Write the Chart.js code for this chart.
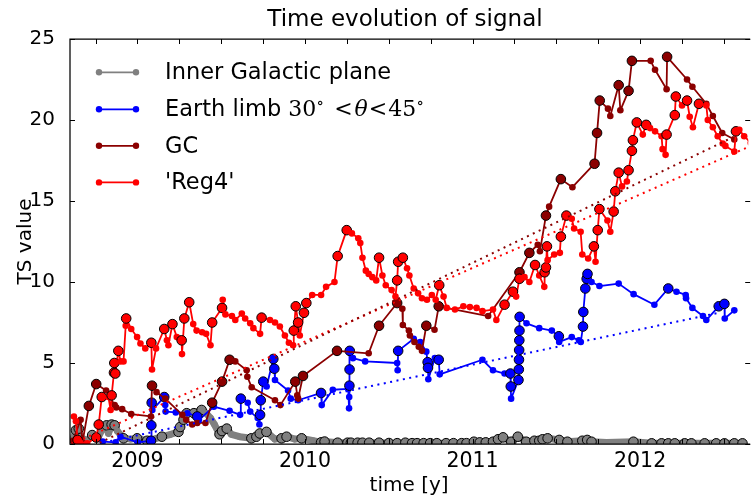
<!DOCTYPE html>
<html lang="en">
<head>
<meta charset="UTF-8">
<title>Time evolution of signal</title>
<script src="https://cdn.jsdelivr.net/npm/chart.js"></script>
<style>
  body { margin: 0; background: #fff; }
  #wrap { width: 754px; height: 497px; }
</style>
</head>
<body>
<div id="wrap"><canvas id="grafico" width="754" height="497"></canvas></div>
<script>
// time in years, TS value, and 1 where the point is drawn with a black ring

// Inner Galactic plane
var igpTime = [2008.615, 2008.633, 2008.650, 2008.660, 2008.700, 2008.730, 2008.760, 2008.790, 2008.816, 2008.827,
  2008.846, 2008.864, 2008.880, 2008.900, 2008.917, 2008.960, 2008.998, 2009.058, 2009.100, 2009.146,
  2009.200, 2009.245, 2009.255, 2009.275, 2009.294, 2009.337, 2009.383, 2009.410, 2009.436, 2009.460,
  2009.490, 2009.505, 2009.533, 2009.560, 2009.610, 2009.680, 2009.710, 2009.730, 2009.770, 2009.820,
  2009.860, 2009.890, 2009.940, 2009.980, 2010.050, 2010.096, 2010.117, 2010.195, 2010.254, 2010.274,
  2010.314, 2010.343, 2010.383, 2010.442, 2010.501, 2010.550, 2010.599, 2010.639, 2010.669, 2010.708,
  2010.747, 2010.787, 2010.842, 2010.886, 2010.935, 2010.964, 2011.008, 2011.043, 2011.079, 2011.122,
  2011.152, 2011.182, 2011.231, 2011.270, 2011.320, 2011.369, 2011.398, 2011.418, 2011.448, 2011.517,
  2011.566, 2011.655, 2011.684, 2011.710, 2011.800, 2011.960, 2012.069, 2012.128, 2012.168, 2012.207,
  2012.266, 2012.306, 2012.385, 2012.454, 2012.503, 2012.562, 2012.611];
var igpTS = [0.3, 0.85, 0.95, 0.4, 0.2, 0.55, 0.3, 0.9, 1.15, 0.65,
  1.2, 1.15, 0.8, 0.55, 0.35, 0.3, 0.35, 0.2, 0.3, 0.45,
  0.6, 0.75, 1.05, 1.5, 1.9, 1.9, 2.1, 1.9, 1.6, 1.2,
  0.6, 0.8, 0.95, 0.6, 0.45, 0.35, 0.45, 0.65, 0.75, 0.3,
  0.35, 0.45, 0.3, 0.35, 0.2, 0.1, 0.15, 0.08, 0.08, 0.08,
  0.08, 0.08, 0.08, 0.08, 0.06, 0.05, 0.08, 0.05, 0.05, 0.05,
  0.05, 0.05, 0.05, 0.05, 0.05, 0.05, 0.14, 0.1, 0.1, 0.14,
  0.29, 0.41, 0.14, 0.45, 0.14, 0.2, 0.2, 0.29, 0.35, 0.25,
  0.14, 0.2, 0.25, 0.14, 0.1, 0.14, 0.04, 0.04, 0.04, 0.04,
  0.04, 0.04, 0.04, 0.04, 0.04, 0.04, 0.04];
var igpRing = [0, 1, 1, 0, 0, 1, 0, 0, 1, 0,
  1, 1, 0, 0, 1, 0, 1, 1, 0, 1,
  0, 1, 1, 1, 1, 1, 1, 0, 0, 0,
  1, 1, 1, 0, 0, 1, 1, 1, 1, 0,
  1, 1, 0, 1, 0, 1, 1, 1, 1, 1,
  1, 1, 1, 1, 1, 1, 1, 1, 1, 1,
  1, 1, 1, 1, 1, 1, 1, 1, 1, 1,
  1, 1, 1, 1, 1, 1, 1, 1, 1, 1,
  1, 1, 1, 1, 0, 1, 1, 1, 1, 1,
  1, 1, 1, 1, 1, 1, 1];

// Earth limb 30-45 deg
var limbTime = [2008.793, 2008.870, 2008.899, 2009.002, 2009.081, 2009.083, 2009.085, 2009.089, 2009.160, 2009.166,
  2009.168, 2009.229, 2009.298, 2009.357, 2009.367, 2009.456, 2009.550, 2009.613, 2009.617, 2009.658,
  2009.673, 2009.718, 2009.728, 2009.732, 2009.736, 2009.751, 2009.771, 2009.811, 2009.817, 2009.821,
  2009.899, 2009.915, 2009.959, 2010.096, 2010.100, 2010.166, 2010.258, 2010.263, 2010.264, 2010.265,
  2010.266, 2010.267, 2010.286, 2010.359, 2010.550, 2010.553, 2010.556, 2010.649, 2010.688, 2010.724,
  2010.732, 2010.734, 2010.736, 2010.775, 2010.798, 2010.804, 2011.059, 2011.122, 2011.191, 2011.226,
  2011.228, 2011.230, 2011.274, 2011.276, 2011.277, 2011.278, 2011.279, 2011.280, 2011.281, 2011.322,
  2011.398, 2011.473, 2011.515, 2011.517, 2011.592, 2011.635, 2011.646, 2011.659, 2011.661, 2011.673,
  2011.681, 2011.686, 2011.710, 2011.757, 2011.872, 2011.961, 2012.085, 2012.168, 2012.217, 2012.272,
  2012.274, 2012.312, 2012.375, 2012.395, 2012.469, 2012.503, 2012.505, 2012.562];
var limbTS = [0.15, 0.1, 0.45, 0.1, 0.2, 1.15, 2.55, 2.1, 2.9, 2.4,
  2.0, 1.95, 1.9, 1.7, 1.5, 2.3, 2.05, 1.8, 2.8, 2.55,
  2.0, 1.6, 1.2, 1.8, 2.7, 3.85, 3.55, 5.25, 4.65, 3.95,
  3.3, 2.8, 2.7, 3.15, 2.4, 3.35, 3.4, 2.2, 2.9, 3.6,
  4.6, 5.75, 5.3, 5.1, 5.0, 4.55, 5.75, 6.5, 6.3, 5.7,
  5.05, 4.7, 4.0, 5.3, 5.2, 4.3, 5.2, 4.55, 4.35, 4.35,
  3.55, 2.8, 3.95, 4.6, 5.2, 5.8, 6.4, 7.0, 7.85, 7.45,
  7.15, 7.0, 6.65, 6.3, 6.6, 6.4, 6.3, 7.25, 8.15, 9.6,
  10.2, 10.5, 10.0, 9.75, 9.9, 9.25, 8.6, 9.6, 9.4, 9.2,
  9.0, 8.4, 7.9, 7.65, 8.5, 8.65, 7.75, 8.25];
var limbRing = [0, 0, 0, 0, 1, 1, 1, 0, 1, 0,
  0, 0, 0, 1, 0, 0, 0, 0, 1, 0,
  0, 0, 0, 1, 1, 1, 0, 1, 1, 0,
  0, 0, 0, 1, 0, 0, 0, 0, 0, 1,
  1, 1, 0, 0, 0, 0, 1, 0, 0, 0,
  1, 1, 0, 0, 1, 0, 0, 0, 0, 1,
  1, 0, 1, 1, 1, 1, 1, 1, 1, 0,
  0, 0, 1, 0, 0, 0, 0, 1, 1, 1,
  1, 1, 0, 0, 0, 0, 0, 1, 0, 0,
  0, 0, 0, 0, 1, 1, 0, 0];

// GC
var gcTime = [2008.615, 2008.661, 2008.672, 2008.710, 2008.754, 2008.813, 2008.864, 2008.874, 2008.909, 2008.963,
  2009.081, 2009.087, 2009.114, 2009.166, 2009.268, 2009.291, 2009.327, 2009.357, 2009.406, 2009.446,
  2009.505, 2009.550, 2009.584, 2009.652, 2009.656, 2009.682, 2009.821, 2009.853, 2009.942, 2009.954,
  2009.959, 2009.988, 2010.191, 2010.380, 2010.442, 2010.550, 2010.581, 2010.584, 2010.620, 2010.626,
  2010.653, 2010.679, 2010.698, 2010.724, 2010.773, 2010.798, 2011.093, 2011.280, 2011.339, 2011.389,
  2011.402, 2011.438, 2011.457, 2011.527, 2011.596, 2011.728, 2011.743, 2011.759, 2011.808, 2011.822,
  2011.872, 2011.882, 2011.931, 2011.951, 2012.063, 2012.089, 2012.158, 2012.161, 2012.280, 2012.312,
  2012.395, 2012.434, 2012.490, 2012.562];
var gcTS = [0.2, 1.5, 0.1, 2.35, 3.7, 3.3, 2.4, 2.25, 2.15, 1.85,
  1.7, 3.6, 3.2, 2.8, 1.8, 1.5, 1.2, 1.3, 1.3, 2.55,
  3.85, 5.2, 5.1, 4.55, 4.15, 3.5, 2.7, 2.4, 3.85, 3.0,
  2.8, 4.2, 5.75, 5.6, 7.3, 8.7, 8.35, 7.35, 7.0, 6.7,
  6.3, 6.0, 5.75, 7.3, 7.05, 8.5, 7.9, 10.6, 11.8, 12.3,
  11.9, 14.1, 14.65, 16.35, 15.85, 17.3, 19.2, 21.2, 20.7, 20.25,
  22.15, 20.6, 21.8, 23.65, 23.65, 23.1, 21.9, 23.9, 22.5, 22.05,
  21.0, 20.25, 19.2, 18.8];
var gcRing = [0, 0, 0, 1, 1, 0, 0, 0, 0, 0,
  0, 1, 0, 0, 0, 0, 0, 0, 0, 1,
  1, 1, 0, 0, 0, 0, 0, 0, 1, 0,
  0, 1, 1, 0, 1, 1, 0, 0, 0, 0,
  0, 0, 0, 1, 0, 1, 0, 1, 1, 0,
  0, 1, 0, 1, 0, 1, 1, 1, 0, 0,
  1, 0, 1, 1, 0, 0, 0, 1, 0, 0,
  0, 0, 0, 0];

// 'Reg4'
var reg4Time = [2008.621, 2008.633, 2008.643, 2008.657, 2008.700, 2008.754, 2008.769, 2008.787, 2008.827, 2008.840,
  2008.846, 2008.860, 2008.862, 2008.868, 2008.886, 2008.899, 2008.917, 2008.930, 2008.933, 2008.963,
  2008.998, 2009.018, 2009.047, 2009.083, 2009.087, 2009.111, 2009.160, 2009.176, 2009.185, 2009.209,
  2009.235, 2009.264, 2009.266, 2009.280, 2009.309, 2009.333, 2009.353, 2009.386, 2009.410, 2009.436,
  2009.446, 2009.505, 2009.509, 2009.525, 2009.564, 2009.584, 2009.623, 2009.643, 2009.673, 2009.692,
  2009.732, 2009.741, 2009.791, 2009.821, 2009.850, 2009.880, 2009.904, 2009.929, 2009.933, 2009.945,
  2009.959, 2009.969, 2009.994, 2010.008, 2010.043, 2010.096, 2010.126, 2010.176, 2010.195, 2010.249,
  2010.280, 2010.318, 2010.330, 2010.343, 2010.363, 2010.380, 2010.402, 2010.425, 2010.442, 2010.462,
  2010.482, 2010.517, 2010.540, 2010.550, 2010.556, 2010.584, 2010.609, 2010.623, 2010.649, 2010.675,
  2010.698, 2010.728, 2010.757, 2010.780, 2010.801, 2010.827, 2010.846, 2010.895, 2010.945, 2010.984,
  2011.024, 2011.059, 2011.122, 2011.142, 2011.191, 2011.241, 2011.260, 2011.280, 2011.310, 2011.339,
  2011.373, 2011.398, 2011.428, 2011.430, 2011.438, 2011.444, 2011.448, 2011.487, 2011.521, 2011.527,
  2011.560, 2011.592, 2011.606, 2011.645, 2011.655, 2011.690, 2011.724, 2011.734, 2011.747, 2011.757,
  2011.805, 2011.822, 2011.842, 2011.852, 2011.872, 2011.892, 2011.921, 2011.931, 2011.951, 2011.957,
  2011.980, 2012.016, 2012.036, 2012.059, 2012.089, 2012.128, 2012.134, 2012.152, 2012.158, 2012.207,
  2012.213, 2012.250, 2012.280, 2012.296, 2012.315, 2012.351, 2012.395, 2012.404, 2012.434, 2012.463,
  2012.493, 2012.509, 2012.562, 2012.572, 2012.592, 2012.621, 2012.660];
var reg4TS = [1.7, 1.4, 0.25, 0.1, 0.05, 0.4, 1.2, 2.9, 2.9, 2.1,
  3.0, 4.4, 5.0, 4.35, 5.75, 5.1, 5.1, 7.3, 7.75, 7.1,
  6.6, 6.2, 5.9, 6.25, 4.6, 5.9, 7.1, 6.4, 6.1, 7.4,
  6.6, 6.4, 5.55, 7.75, 8.75, 7.4, 7.0, 6.9, 6.8, 6.1,
  7.5, 8.4, 8.9, 8.0, 7.9, 7.65, 8.05, 7.75, 7.45, 7.15,
  6.8, 7.8, 7.65, 7.5, 7.25, 6.7, 6.25, 6.1, 7.0, 8.5,
  7.5, 6.7, 8.1, 8.7, 9.2, 9.2, 9.7, 10.0, 11.6, 13.2,
  13.0, 12.7, 12.4, 11.5, 10.7, 10.5, 10.3, 10.1, 11.5, 10.4,
  9.8, 9.5, 9.1, 10.1, 11.25, 11.5, 10.85, 10.4, 9.6, 9.3,
  9.0, 8.9, 9.2, 8.9, 9.8, 9.1, 8.4, 8.3, 8.5, 8.45,
  8.4, 8.2, 8.3, 7.65, 8.6, 9.4, 9.1, 10.2, 10.3, 10.0,
  11.05, 10.4, 9.7, 10.6, 10.9, 12.2, 11.35, 11.7, 11.8, 12.8,
  14.1, 13.9, 13.3, 13.1, 11.7, 11.45, 12.2, 11.25, 13.2, 14.5,
  13.8, 13.1, 14.35, 15.6, 16.75, 15.9, 16.2, 16.9, 18.1, 18.75,
  19.85, 19.1, 19.7, 19.5, 19.3, 19.0, 18.2, 17.85, 19.1, 20.3,
  21.45, 20.9, 21.2, 20.2, 19.55, 21.0, 20.9, 20.0, 19.55, 19.0,
  18.55, 18.4, 18.05, 19.3, 19.4, 19.0, 18.6];
var reg4Ring = [0, 0, 1, 0, 0, 1, 1, 1, 0, 0,
  1, 1, 1, 1, 1, 0, 0, 0, 1, 0,
  0, 0, 0, 1, 0, 0, 1, 0, 0, 1,
  0, 1, 0, 1, 1, 0, 0, 0, 0, 0,
  1, 1, 0, 0, 0, 0, 0, 0, 0, 0,
  0, 1, 0, 0, 0, 0, 0, 0, 1, 1,
  1, 0, 1, 1, 0, 0, 0, 0, 1, 1,
  0, 0, 0, 0, 0, 0, 0, 0, 1, 0,
  0, 0, 0, 1, 1, 1, 0, 0, 0, 0,
  0, 0, 0, 0, 1, 0, 0, 0, 0, 0,
  0, 0, 0, 0, 1, 1, 0, 1, 0, 0,
  1, 0, 0, 1, 1, 1, 0, 0, 0, 1,
  1, 0, 0, 0, 0, 0, 1, 0, 1, 1,
  0, 0, 1, 1, 1, 0, 0, 1, 1, 1,
  1, 0, 1, 0, 0, 0, 0, 0, 1, 1,
  1, 0, 1, 0, 0, 1, 0, 0, 0, 0,
  0, 0, 0, 1, 0, 0, 0];

// linear trends (end points)
var gcFitTime = [2008.60, 2012.57];
var gcFitTS = [-0.8, 19.02];
var reg4FitTime = [2008.606, 2012.66];
var reg4FitTS = [0.0, 18.4];
var limbFitTime = [2008.80, 2012.47];
var limbFitTS = [0.1, 8.1];

// axes
var yearTicks = [2009, 2010, 2011, 2012];
var tsTicks = [0, 5, 10, 15, 20, 25];
var tMin = 2008.5976, tMax = 2012.645;

var GREY = '#808080', BLUE = '#0000ff', DARKRED = '#8b0000', RED = '#ff0000';

function puntos(t, v) {
  return t.map(function (x, i) { return { x: x, y: v[i] }; });
}

function serie(label, color, t, v, ring, width, order) {
  return {
    label: label,
    data: puntos(t, v),
    borderColor: color,
    backgroundColor: color,
    borderWidth: width,
    borderJoinStyle: 'round',
    pointBackgroundColor: color,
    pointRadius: function (c) { return ring[c.dataIndex] ? 4.8 : 3.3; },
    pointBorderColor: function (c) { return ring[c.dataIndex] ? '#000' : color; },
    pointBorderWidth: function (c) { return ring[c.dataIndex] ? 1 : 0; },
    tension: 0,
    clip: 0,
    order: order
  };
}

function tendencia(color, t, v) {
  return {
    data: puntos(t, v),
    borderColor: color,
    borderWidth: 2,
    borderDash: [2, 4.5],
    pointRadius: 0,
    tension: 0,
    clip: 0,
    order: 0
  };
}

var leyenda = [
  { color: GREY, text: 'Inner Galactic plane', y: 72.3 },
  { color: BLUE, text: 'Earth limb', y: 109.3 },
  { color: DARKRED, text: 'GC', y: 145.8 },
  { color: RED, text: "'Reg4'", y: 182.4 }
];

var marco = {
  id: 'marco',
  afterDraw: function (chart) {
    var c = chart.ctx, a = chart.chartArea, sx = chart.scales.x, sy = chart.scales.y;
    c.save();
    // spines
    c.strokeStyle = '#000';
    c.lineWidth = 1.25;
    c.beginPath();
    c.moveTo(a.right + 2, a.top);
    c.lineTo(a.left, a.top);
    c.lineTo(a.left, a.bottom);
    c.lineTo(a.right + 2, a.bottom);
    c.stroke();
    // inward ticks on all sides
    c.lineWidth = 1;
    c.beginPath();
    sx.ticks.forEach(function (t) {
      if (Math.abs(t.value * 4 - Math.round(t.value * 4)) > 1e-6) return;
      var px = Math.round(sx.getPixelForValue(t.value)) + 0.5;
      c.moveTo(px, a.bottom); c.lineTo(px, a.bottom - 5);
      c.moveTo(px, a.top); c.lineTo(px, a.top + 5);
    });
    sy.ticks.forEach(function (t) {
      var py = Math.round(sy.getPixelForValue(t.value)) + 0.5;
      c.moveTo(a.left, py); c.lineTo(a.left + 5, py);
      c.moveTo(a.right + 2, py); c.lineTo(a.right - 3, py);
    });
    c.stroke();

    // title and axis labels
    c.fillStyle = '#000';
    c.textAlign = 'center';
    c.textBaseline = 'alphabetic';
    c.font = '23px "DejaVu Sans"';
    c.fillText('Time evolution of signal', 405, 26);
    c.font = '20px "DejaVu Sans"';
    c.fillText('time [y]', (a.left + a.right) / 2, 491);
    c.save();
    c.translate(31, (a.top + a.bottom) / 2);
    c.rotate(-Math.PI / 2);
    c.fillText('TS value', 0, 0);
    c.restore();

    // legend
    c.textAlign = 'left';
    leyenda.forEach(function (r) {
      c.strokeStyle = r.color;
      c.fillStyle = r.color;
      c.lineWidth = 1.8;
      c.beginPath();
      c.moveTo(99, r.y); c.lineTo(136, r.y);
      c.stroke();
      [99, 136].forEach(function (x) {
        c.beginPath(); c.arc(x, r.y, 3.2, 0, 2 * Math.PI); c.fill();
      });
      c.fillStyle = '#000';
      c.font = '22.5px "DejaVu Sans"';
      c.fillText(r.text, 165, r.y + 7);
    });

    // math part of the Earth limb entry: 30° < θ < 45°
    var by = leyenda[1].y + 7;
    c.font = '22.5px "DejaVu Sans"';
    var x = 165 + c.measureText('Earth limb ').width;
    var serif = '22px "DejaVu Serif"', small = '16px "DejaVu Serif"';
    var piezas = [
      ['30', serif, 0, 0], ['\u2218', small, -8, 10], ['<', serif, 0, 2],
      ['\u03b8', 'italic ' + serif, 0, 1], ['<', serif, 0, 1], ['45', serif, 0, 0], ['\u2218', small, -8, 0]
    ];
    piezas.forEach(function (p) {
      c.font = p[1];
      c.fillText(p[0], x, by + p[2]);
      x += c.measureText(p[0]).width + p[3];
    });
    c.restore();
  }
};

Chart.defaults.font.family = '"DejaVu Sans", sans-serif';
Chart.defaults.font.size = 20;
Chart.defaults.color = '#000';

var ctx = document.getElementById('grafico').getContext('2d');
var grafico = new Chart(ctx, {
  type: 'line',
  data: {
    datasets: [
      serie('Inner Galactic plane', GREY, igpTime, igpTS, igpRing, 7, 4),
      serie('Earth limb', BLUE, limbTime, limbTS, limbRing, 1.8, 3),
      serie('GC', DARKRED, gcTime, gcTS, gcRing, 1.8, 2),
      serie("'Reg4'", RED, reg4Time, reg4TS, reg4Ring, 1.8, 1),
      tendencia(DARKRED, gcFitTime, gcFitTS),
      tendencia(RED, reg4FitTime, reg4FitTS),
      tendencia(BLUE, limbFitTime, limbFitTS)
    ]
  },
  options: {
    responsive: false,
    animation: false,
    events: [],
    layout: { padding: { top: 39, right: 0, bottom: 0, left: 0 } },
    plugins: { legend: { display: false }, title: { display: false }, tooltip: { enabled: false } },
    scales: {
      x: {
        type: 'linear',
        min: tMin,
        max: tMax,
        grid: { display: false },
        border: { display: false },
        afterBuildTicks: function (scale) {
          var ticks = [];
          for (var q = Math.ceil(tMin * 4); q <= Math.floor(tMax * 4); q++) ticks.push({ value: q / 4 });
          scale.ticks = ticks;
        },
        afterFit: function (scale) { scale.height = 53; },
        ticks: {
          autoSkip: false,
          maxRotation: 0,
          padding: -3,
          font: { size: 20.5 },
          callback: function (v) {
            var r = Math.round(v);
            return (Math.abs(v - r) < 1e-6 && yearTicks.indexOf(r) >= 0) ? String(r) : '';
          }
        }
      },
      y: {
        min: 0,
        max: 25,
        grid: { display: false },
        border: { display: false },
        afterBuildTicks: function (scale) {
          scale.ticks = tsTicks.map(function (v) { return { value: v }; });
        },
        afterFit: function (scale) { scale.width = 70; },
        ticks: { padding: 7, font: { size: 20 } }
      }
    }
  },
  plugins: [marco]
});
</script>
</body>
</html>
